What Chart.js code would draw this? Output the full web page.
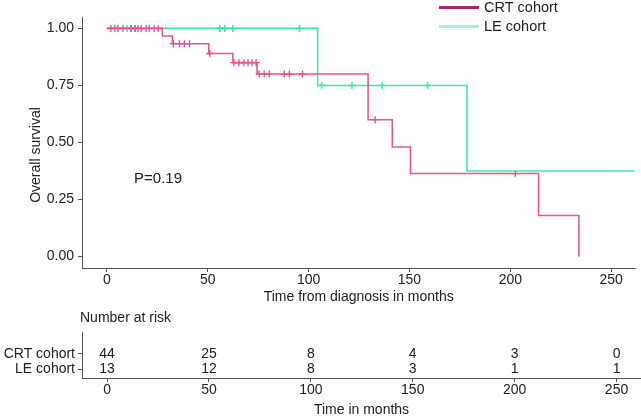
<!DOCTYPE html>
<html>
<head>
<meta charset="utf-8">
<script src="https://cdn.jsdelivr.net/npm/chart.js@4"></script>
<style>
  body { margin: 0; background: #fff; overflow: hidden; }
  #top { position: absolute; left: 0; top: 0; width: 641px; height: 306px; }
  #bottom { position: absolute; left: 0; top: 306px; width: 641px; height: 111px; }
</style>
</head>
<body>
<div id="top"><canvas id="kmChart"></canvas></div>
<div id="bottom"><canvas id="riskChart"></canvas></div>
<script>
// survival steps (time in months, survival after that time)
const crtTimes = [0, 27.5, 32.5, 50.5, 62.5, 74.5, 129.5, 141.5, 150.5, 214, 234];
const crtSurv = [1, 0.967, 0.933, 0.89, 0.85, 0.80, 0.60, 0.48, 0.364, 0.18, 0];
const leTimes = [0, 104.5, 178.5, 262];
const leSurv = [1, 0.75, 0.375, 0.375];

// censored times
const crtCensor = [2, 4, 5.5, 8, 12, 14, 15.5, 17, 19.5, 21, 23.5, 25.5,
  33, 36, 38.5, 41, 51, 63, 65.5, 68, 70, 72, 74,
  75.5, 78, 80.5, 88, 90.5, 97, 133, 202.5];
const leCensor = [10, 12, 14, 56, 58.5, 62.5, 95.5, 106.5, 121.5, 136.5, 159];

const xTicks = [0, 50, 100, 150, 200, 250];
const yTicks = [0, 0.25, 0.5, 0.75, 1];

// number at risk table
const riskGroups = ["CRT cohort", "LE cohort"];
const riskCRT = [44, 25, 8, 4, 3, 0];
const riskLE = [13, 12, 8, 3, 1, 1];

const pText = "P=0.19";

const crtColor = "#e8558f";
const leColor = "#3fe6b0";
const axisColor = "#555";
const textColor = "#222";
const fontFamily = "'Liberation Sans', Arial, sans-serif";
const xMin = -12.3, xMax = 262;

function survAt(times, surv, t) {
  let s = surv[0];
  times.forEach((tt, i) => { if (tt <= t) s = surv[i]; });
  return s;
}

const toPoints = (xs, ys) => xs.map((x, i) => ({ x: x, y: ys[i] }));

const axisGrid = {
  display: true,
  drawOnChartArea: false,
  drawTicks: true,
  tickLength: 4,
  tickColor: axisColor,
  tickWidth: 1,
};
const axisBorder = { display: true, color: axisColor, width: 1 };

// legend, p-value, y title
const kmExtras = {
  id: "kmExtras",
  afterDraw(chart) {
    const ctx = chart.ctx;
    const x = chart.scales.x;
    const y = chart.scales.y;
    ctx.save();
    ctx.fillStyle = textColor;
    ctx.font = "15px " + fontFamily;
    ctx.textAlign = "left";
    ctx.textBaseline = "middle";
    ctx.fillText(pText, x.getPixelForValue(13.5), y.getPixelForValue(0.34));

    // legend
    const items = [
      { label: "CRT cohort", color: "#a52a6b", w: 3, yy: 7.5 },
      { label: "LE cohort", color: "#9ff3df", w: 3, yy: 26.5 },
    ];
    ctx.font = "14.5px " + fontFamily;
    items.forEach(it => {
      ctx.strokeStyle = it.color;
      ctx.lineWidth = it.w;
      ctx.beginPath();
      ctx.moveTo(439, it.yy);
      ctx.lineTo(479, it.yy);
      ctx.stroke();
      ctx.fillStyle = textColor;
      ctx.fillText(it.label, 484, it.yy + 0.5);
    });

    // y axis title
    ctx.translate(36, 155);
    ctx.rotate(-Math.PI / 2);
    ctx.textAlign = "center";
    ctx.font = "14px " + fontFamily;
    ctx.fillText("Overall survival", 0, 0);
    ctx.restore();
  },
};

new Chart(document.getElementById("kmChart"), {
  type: "scatter",
  data: {
    datasets: [
      {
        label: "CRT cohort",
        data: toPoints(crtTimes, crtSurv),
        showLine: true,
        stepped: "before",
        borderColor: crtColor,
        borderWidth: 1.6,
        pointRadius: 0,
      },
      {
        label: "LE cohort",
        data: toPoints(leTimes, leSurv),
        showLine: true,
        stepped: "before",
        borderColor: leColor,
        borderWidth: 1.6,
        pointRadius: 0,
      },
      {
        label: "CRT censored",
        data: crtCensor.map(t => ({ x: t, y: survAt(crtTimes, crtSurv, t) })),
        pointStyle: "cross",
        pointRadius: 3.5,
        borderColor: "#d9488a",
        borderWidth: 1.3,
      },
      {
        label: "LE censored",
        data: leCensor.map(t => ({ x: t, y: survAt(leTimes, leSurv, t) })),
        pointStyle: "cross",
        pointRadius: 3.5,
        borderColor: leColor,
        borderWidth: 1.6,
      },
    ],
  },
  options: {
    responsive: true,
    maintainAspectRatio: false,
    animation: false,
    layout: { padding: { top: 17, right: 0, bottom: 0, left: 0 } },
    plugins: { legend: { display: false }, tooltip: { enabled: false } },
    scales: {
      x: {
        type: "linear",
        min: xMin,
        max: xMax,
        afterBuildTicks: s => { s.ticks = xTicks.map(v => ({ value: v })); },
        afterFit: s => { s.height = 38; },
        grid: axisGrid,
        border: axisBorder,
        ticks: { color: textColor, font: { family: fontFamily, size: 14 }, padding: 0 },
        title: {
          display: true,
          text: "Time from diagnosis in months",
          color: textColor,
          font: { family: fontFamily, size: 14 },
          padding: { top: 0, bottom: 0 },
        },
      },
      y: {
        type: "linear",
        min: -0.05,
        max: 1.05,
        afterBuildTicks: s => { s.ticks = yTicks.map(v => ({ value: v })); },
        afterFit: s => { s.width = 82; },
        grid: axisGrid,
        border: axisBorder,
        ticks: {
          color: textColor,
          font: { family: fontFamily, size: 14 },
          padding: 4,
          callback: v => v.toFixed(2),
        },
      },
    },
  },
  plugins: [kmExtras],
});

// risk table numbers
const riskExtras = {
  id: "riskExtras",
  afterDraw(chart) {
    const ctx = chart.ctx;
    const x = chart.scales.x;
    const y = chart.scales.y;
    ctx.save();
    ctx.fillStyle = textColor;
    ctx.font = "14px " + fontFamily;
    ctx.textAlign = "center";
    ctx.textBaseline = "middle";
    xTicks.forEach((t, i) => {
      ctx.fillText(String(riskCRT[i]), x.getPixelForValue(t), y.getPixelForValue(2));
      ctx.fillText(String(riskLE[i]), x.getPixelForValue(t), y.getPixelForValue(1));
    });
    ctx.textAlign = "left";
    ctx.fillText("Number at risk", 80, chart.chartArea.top - 14);
    ctx.restore();
  },
};

new Chart(document.getElementById("riskChart"), {
  type: "scatter",
  data: { datasets: [] },
  options: {
    responsive: true,
    maintainAspectRatio: false,
    animation: false,
    layout: { padding: { top: 26, right: 0, bottom: 0, left: 0 } },
    plugins: { legend: { display: false }, tooltip: { enabled: false } },
    scales: {
      x: {
        type: "linear",
        min: xMin,
        max: xMax,
        afterBuildTicks: s => { s.ticks = xTicks.map(v => ({ value: v })); },
        afterFit: s => { s.height = 39; },
        grid: axisGrid,
        border: axisBorder,
        ticks: { color: textColor, font: { family: fontFamily, size: 14 }, padding: 0 },
        title: {
          display: true,
          text: "Time in months",
          color: textColor,
          font: { family: fontFamily, size: 14, lineHeight: 1 },
          padding: { top: 0, bottom: 0 },
        },
      },
      y: {
        type: "linear",
        min: 0.46,
        max: 3.4,
        afterBuildTicks: s => { s.ticks = [{ value: 2 }, { value: 1 }]; },
        afterFit: s => { s.width = 82; },
        grid: axisGrid,
        border: axisBorder,
        ticks: {
          color: textColor,
          font: { family: fontFamily, size: 14 },
          padding: 3,
          callback: v => riskGroups[2 - v],
        },
      },
    },
  },
  plugins: [riskExtras],
});
</script>
</body>
</html>
